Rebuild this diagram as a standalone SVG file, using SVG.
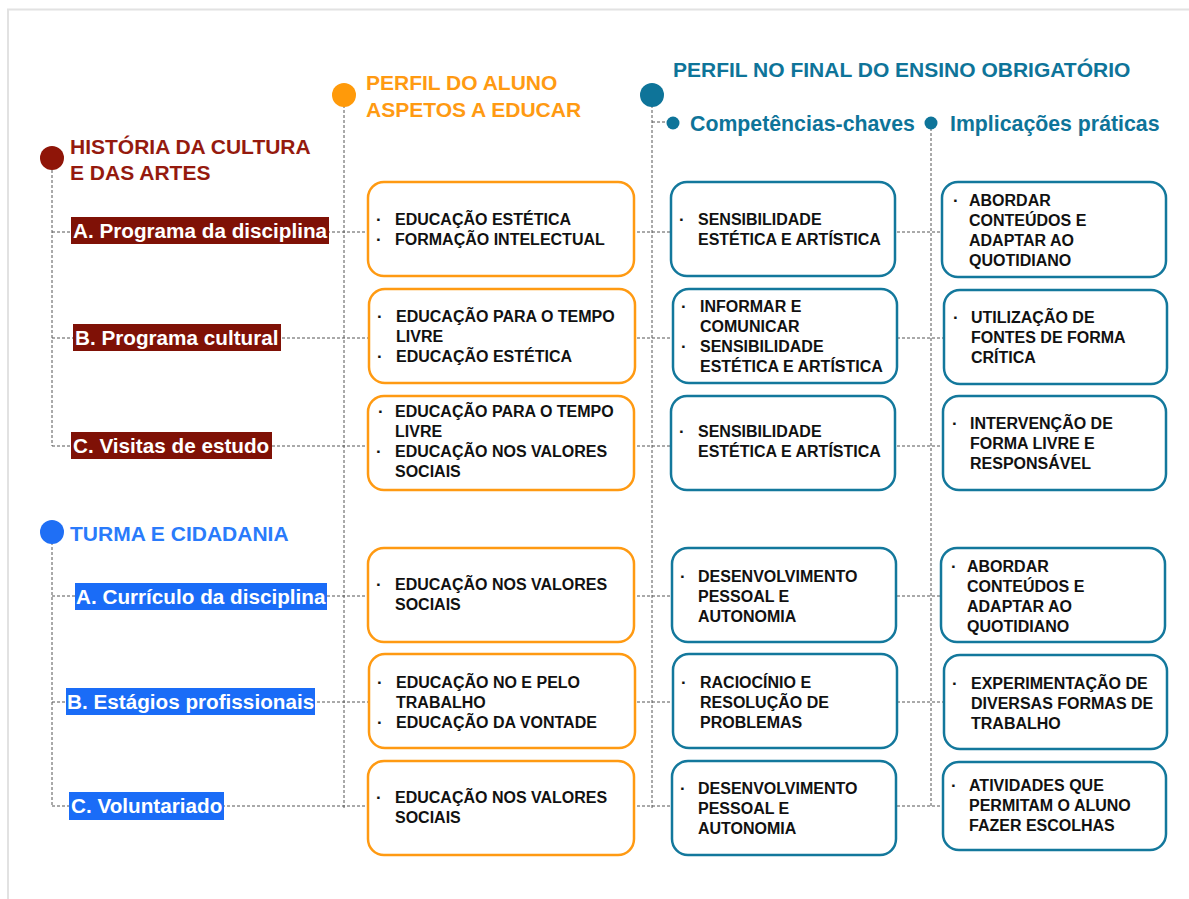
<svg xmlns="http://www.w3.org/2000/svg" width="1189" height="899" viewBox="0 0 1189 899">
<style>
text{font-family:"Liberation Sans",Arial,Helvetica,sans-serif;font-weight:bold}
.h{font-size:21px}
.hs{font-size:21.3px}
.lbl{font-size:20.7px;fill:#fff}
.bt{font-size:16px;fill:#111}
.bu{font-size:17px;fill:#111}
.dash{stroke:#555;stroke-width:1;stroke-dasharray:3 2;fill:none}
.ob{fill:#fff;stroke:#ff9a12;stroke-width:2.5}
.tb{fill:#fff;stroke:#13789c;stroke-width:2.5}
</style>
<rect x="0" y="0" width="1189" height="899" fill="#fff"/>
<path d="M8 899 V9.5 H1189" fill="none" stroke="#e2e2e2" stroke-width="2"/>
<g id="connectors">
<path class="dash" d="M52 170 V446 M52 532 V806 M344 95 V808 M652 95 V808 M652 122 H668 M931 123 V808"/>
<path class="dash" d="M52 232 H943 M52 338 H943 M52 446 H943 M52 596 H943 M52 702 H943 M52 806 H943"/>
</g>
<g id="header-historia">
<circle cx="52" cy="158" r="12" fill="#8f1508"/>
<text class="h" x="70" y="154" fill="#951a0e">HISTÓRIA DA CULTURA</text>
<text class="h" x="70" y="180" fill="#951a0e">E DAS ARTES</text>
</g>
<g id="header-perfil-aluno">
<circle cx="344" cy="95" r="12" fill="#ff9a0a"/>
<text class="h" x="366" y="90" fill="#ff9a12">PERFIL DO ALUNO</text>
<text class="h" x="366" y="117" fill="#ff9a12">ASPETOS A EDUCAR</text>
</g>
<g id="header-perfil-final">
<circle cx="652" cy="95" r="12" fill="#0e7499"/>
<text class="h" x="673" y="77" fill="#0e7499">PERFIL NO FINAL DO ENSINO OBRIGATÓRIO</text>
</g>
<g id="header-competencias">
<circle cx="673" cy="123" r="6.5" fill="#0e7499"/>
<text class="hs" x="690" y="131" fill="#0e7499">Competências-chaves</text>
</g>
<g id="header-implicacoes">
<circle cx="931" cy="123" r="6.5" fill="#0e7499"/>
<text class="hs" x="950" y="131" fill="#0e7499">Implicações práticas</text>
</g>
<g id="header-turma">
<circle cx="52" cy="532" r="12" fill="#1f6ff5"/>
<text class="h" x="70" y="541" fill="#2a7bfb">TURMA E CIDADANIA</text>
</g>
<g id="label-hA"><rect x="71" y="217" width="258" height="27" fill="#7f1106"/><text class="lbl" x="73" y="238">A. Programa da disciplina</text></g>
<g id="label-hB"><rect x="73" y="324" width="208" height="27" fill="#7f1106"/><text class="lbl" x="75" y="345">B. Programa cultural</text></g>
<g id="label-hC"><rect x="71" y="432" width="201" height="27" fill="#7f1106"/><text class="lbl" x="73" y="453">C. Visitas de estudo</text></g>
<g id="label-tA"><rect x="75" y="583" width="252" height="27" fill="#1a6cf7"/><text class="lbl" x="76" y="604">A. Currículo da disciplina</text></g>
<g id="label-tB"><rect x="66" y="688" width="249" height="27" fill="#1a6cf7"/><text class="lbl" x="67" y="709">B. Estágios profissionais</text></g>
<g id="label-tC"><rect x="69" y="792" width="155" height="28" fill="#1a6cf7"/><text class="lbl" x="71" y="813">C. Voluntariado</text></g>

<g id="aluno-1"><rect class="ob" x="368" y="182" width="266" height="94" rx="16"/>
<text class="bu" x="376" y="225">·</text><text class="bt" x="395" y="225">EDUCAÇÃO ESTÉTICA</text>
<text class="bu" x="376" y="245">·</text><text class="bt" x="395" y="245">FORMAÇÃO INTELECTUAL</text></g>
<g id="aluno-2"><rect class="ob" x="369" y="289" width="266" height="94" rx="16"/>
<text class="bu" x="377" y="322">·</text><text class="bt" x="396" y="322">EDUCAÇÃO PARA O TEMPO</text>
<text class="bt" x="396" y="342">LIVRE</text>
<text class="bu" x="377" y="362">·</text><text class="bt" x="396" y="362">EDUCAÇÃO ESTÉTICA</text></g>
<g id="aluno-3"><rect class="ob" x="368" y="396" width="266" height="94" rx="16"/>
<text class="bu" x="378" y="417">·</text><text class="bt" x="395" y="417">EDUCAÇÃO PARA O TEMPO</text>
<text class="bt" x="395" y="437">LIVRE</text>
<text class="bu" x="376" y="457">·</text><text class="bt" x="395" y="457">EDUCAÇÃO NOS VALORES</text>
<text class="bt" x="395" y="477">SOCIAIS</text></g>
<g id="aluno-4"><rect class="ob" x="368" y="548" width="266" height="94" rx="16"/>
<text class="bu" x="376" y="590">·</text><text class="bt" x="395" y="590">EDUCAÇÃO NOS VALORES</text>
<text class="bt" x="395" y="610">SOCIAIS</text></g>
<g id="aluno-5"><rect class="ob" x="369" y="654" width="266" height="94" rx="16"/>
<text class="bu" x="377" y="688">·</text><text class="bt" x="396" y="688">EDUCAÇÃO NO E PELO</text>
<text class="bt" x="396" y="708">TRABALHO</text>
<text class="bu" x="377" y="728">·</text><text class="bt" x="396" y="728">EDUCAÇÃO DA VONTADE</text></g>
<g id="aluno-6"><rect class="ob" x="368" y="761" width="266" height="94" rx="16"/>
<text class="bu" x="376" y="803">·</text><text class="bt" x="395" y="803">EDUCAÇÃO NOS VALORES</text>
<text class="bt" x="395" y="823">SOCIAIS</text></g>

<g id="comp-1"><rect class="tb" x="671" y="182" width="224" height="94" rx="16"/>
<text class="bu" x="679" y="225">·</text><text class="bt" x="698" y="225">SENSIBILIDADE</text>
<text class="bt" x="698" y="245">ESTÉTICA E ARTÍSTICA</text></g>
<g id="comp-2"><rect class="tb" x="673" y="289" width="224" height="94" rx="16"/>
<text class="bu" x="681" y="312">·</text><text class="bt" x="700" y="312">INFORMAR E</text>
<text class="bt" x="700" y="332">COMUNICAR</text>
<text class="bu" x="681" y="352">·</text><text class="bt" x="700" y="352">SENSIBILIDADE</text>
<text class="bt" x="700" y="372">ESTÉTICA E ARTÍSTICA</text></g>
<g id="comp-3"><rect class="tb" x="671" y="396" width="224" height="94" rx="16"/>
<text class="bu" x="679" y="437">·</text><text class="bt" x="698" y="437">SENSIBILIDADE</text>
<text class="bt" x="698" y="457">ESTÉTICA E ARTÍSTICA</text></g>
<g id="comp-4"><rect class="tb" x="672" y="548" width="224" height="94" rx="16"/>
<text class="bu" x="680" y="582">·</text><text class="bt" x="698" y="582">DESENVOLVIMENTO</text>
<text class="bt" x="698" y="602">PESSOAL E</text>
<text class="bt" x="698" y="622">AUTONOMIA</text></g>
<g id="comp-5"><rect class="tb" x="673" y="654" width="224" height="94" rx="16"/>
<text class="bu" x="681" y="688">·</text><text class="bt" x="700" y="688">RACIOCÍNIO E</text>
<text class="bt" x="700" y="708">RESOLUÇÃO DE</text>
<text class="bt" x="700" y="728">PROBLEMAS</text></g>
<g id="comp-6"><rect class="tb" x="672" y="761" width="224" height="94" rx="16"/>
<text class="bu" x="680" y="794">·</text><text class="bt" x="698" y="794">DESENVOLVIMENTO</text>
<text class="bt" x="698" y="814">PESSOAL E</text>
<text class="bt" x="698" y="834">AUTONOMIA</text></g>

<g id="impl-1"><rect class="tb" x="942" y="182" width="224" height="95" rx="16"/>
<text class="bu" x="953" y="206">·</text><text class="bt" x="969" y="206">ABORDAR</text>
<text class="bt" x="969" y="226">CONTEÚDOS E</text>
<text class="bt" x="969" y="246">ADAPTAR AO</text>
<text class="bt" x="969" y="266">QUOTIDIANO</text></g>
<g id="impl-2"><rect class="tb" x="944" y="290" width="223" height="94" rx="16"/>
<text class="bu" x="953" y="323">·</text><text class="bt" x="971" y="323">UTILIZAÇÃO DE</text>
<text class="bt" x="971" y="343">FONTES DE FORMA</text>
<text class="bt" x="971" y="363">CRÍTICA</text></g>
<g id="impl-3"><rect class="tb" x="943" y="396" width="223" height="94" rx="16"/>
<text class="bu" x="952" y="429">·</text><text class="bt" x="970" y="429">INTERVENÇÃO DE</text>
<text class="bt" x="970" y="449">FORMA LIVRE E</text>
<text class="bt" x="970" y="469">RESPONSÁVEL</text></g>
<g id="impl-4"><rect class="tb" x="941" y="548" width="224" height="94" rx="16"/>
<text class="bu" x="951" y="572">·</text><text class="bt" x="967" y="572">ABORDAR</text>
<text class="bt" x="967" y="592">CONTEÚDOS E</text>
<text class="bt" x="967" y="612">ADAPTAR AO</text>
<text class="bt" x="967" y="632">QUOTIDIANO</text></g>
<g id="impl-5"><rect class="tb" x="944" y="655" width="223" height="94" rx="16"/>
<text class="bu" x="952" y="689">·</text><text class="bt" x="971" y="689">EXPERIMENTAÇÃO DE</text>
<text class="bt" x="971" y="709">DIVERSAS FORMAS DE</text>
<text class="bt" x="971" y="729">TRABALHO</text></g>
<g id="impl-6"><rect class="tb" x="943" y="762" width="223" height="88" rx="16"/>
<text class="bu" x="951" y="791">·</text><text class="bt" x="969" y="791">ATIVIDADES QUE</text>
<text class="bt" x="969" y="811">PERMITAM O ALUNO</text>
<text class="bt" x="969" y="831">FAZER ESCOLHAS</text></g>
</svg>
